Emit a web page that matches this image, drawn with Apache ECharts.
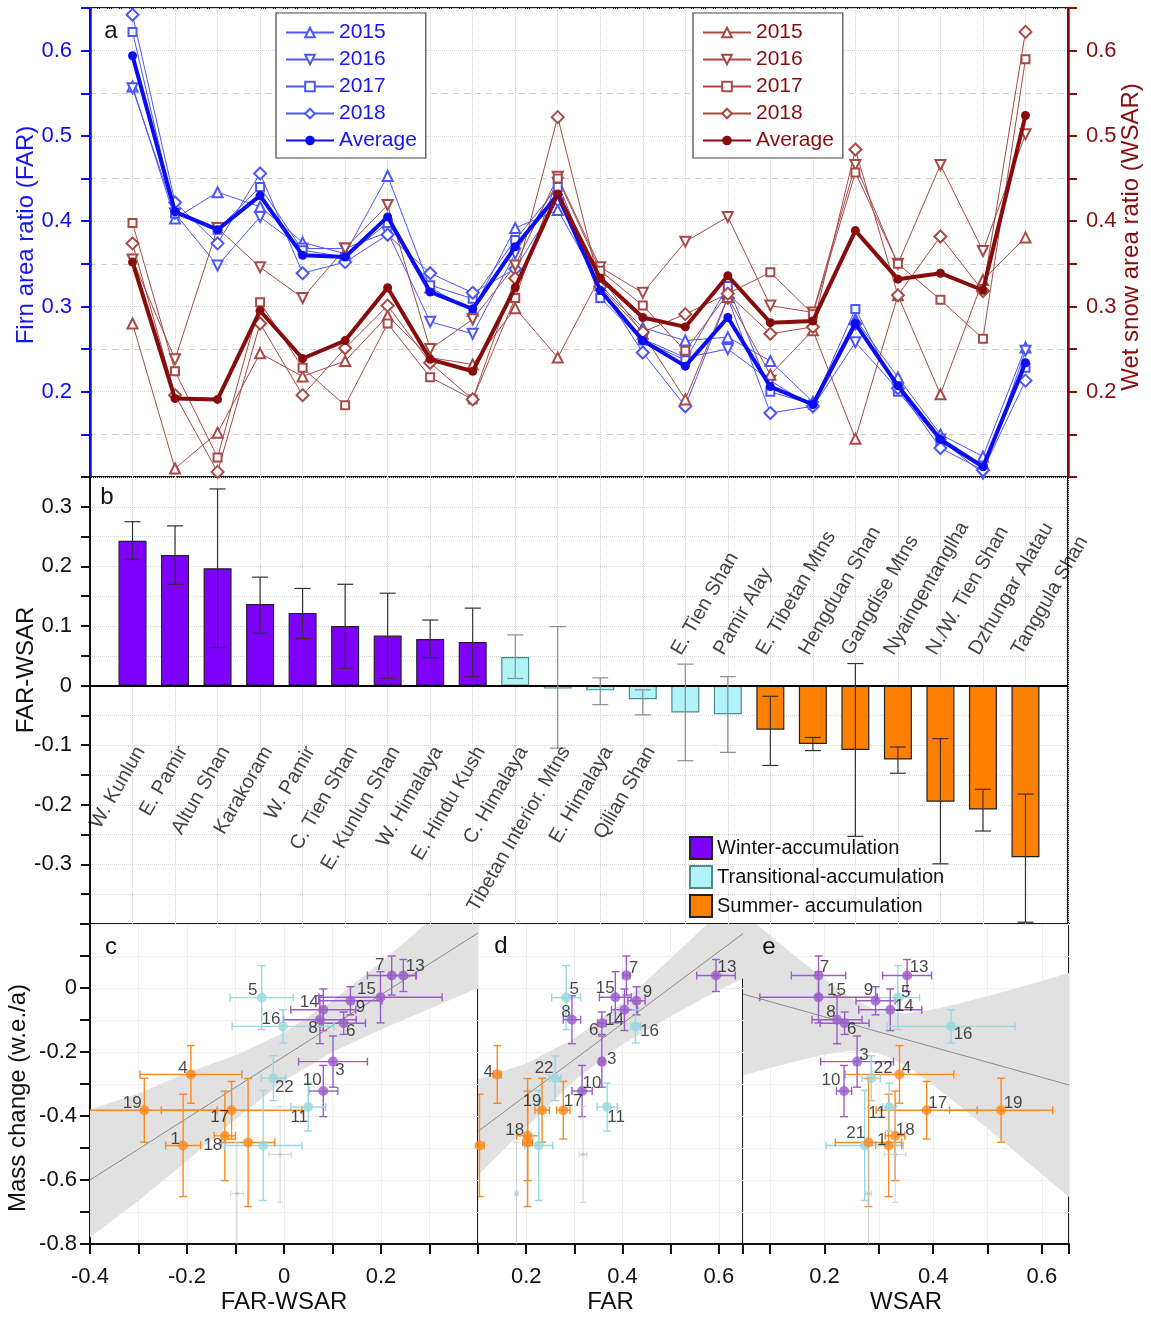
<!DOCTYPE html>
<html>
<head>
<meta charset="utf-8">
<title>FAR / WSAR by region</title>
<script src="https://cdn.jsdelivr.net/npm/echarts@6/dist/echarts.min.js"></script>
<style>
  html, body { margin: 0; padding: 0; background: #fff; }
  #chart { width: 1151px; height: 1317px; }
</style>
</head>
<body>
<div id="chart"></div>
<script>
// ---- panel a: yearly and mean ratios per region (same order as panel b) ----
var years = ['2015', '2016', '2017', '2018'];
var far2015 = [0.558, 0.403, 0.434, 0.417, 0.375, 0.362, 0.453, 0.322, 0.295, 0.392, 0.413, 0.325, 0.275, 0.260, 0.264, 0.236, 0.188, 0.285, 0.217, 0.150, 0.124, 0.252];
var far2016 = [0.556, 0.409, 0.348, 0.405, 0.368, 0.368, 0.387, 0.282, 0.268, 0.362, 0.445, 0.320, 0.262, 0.240, 0.250, 0.213, 0.182, 0.258, 0.203, 0.144, 0.104, 0.248];
var far2017 = [0.622, 0.409, 0.390, 0.440, 0.366, 0.358, 0.398, 0.325, 0.309, 0.378, 0.440, 0.310, 0.260, 0.237, 0.324, 0.200, 0.185, 0.297, 0.200, 0.142, 0.110, 0.228];
var far2018 = [0.642, 0.422, 0.374, 0.456, 0.339, 0.352, 0.384, 0.339, 0.316, 0.344, 0.425, 0.323, 0.246, 0.183, 0.310, 0.175, 0.183, 0.280, 0.204, 0.134, 0.108, 0.213];
var farAvg = [0.594, 0.411, 0.390, 0.430, 0.360, 0.358, 0.405, 0.317, 0.297, 0.370, 0.431, 0.319, 0.260, 0.230, 0.287, 0.206, 0.185, 0.280, 0.207, 0.144, 0.112, 0.234];
var wsar2015 = [0.280, 0.110, 0.152, 0.245, 0.218, 0.236, 0.289, 0.240, 0.232, 0.298, 0.240, 0.335, 0.268, 0.191, 0.311, 0.220, 0.272, 0.145, 0.313, 0.197, 0.331, 0.381];
var wsar2016 = [0.355, 0.238, 0.392, 0.346, 0.310, 0.368, 0.419, 0.250, 0.285, 0.348, 0.452, 0.346, 0.316, 0.376, 0.405, 0.301, 0.293, 0.466, 0.350, 0.466, 0.365, 0.502];
var wsar2017 = [0.398, 0.224, 0.123, 0.305, 0.228, 0.184, 0.280, 0.217, 0.191, 0.310, 0.450, 0.342, 0.301, 0.248, 0.315, 0.340, 0.291, 0.457, 0.350, 0.308, 0.262, 0.590];
var wsar2018 = [0.374, 0.196, 0.106, 0.280, 0.196, 0.251, 0.301, 0.234, 0.191, 0.333, 0.522, 0.323, 0.270, 0.291, 0.315, 0.268, 0.276, 0.484, 0.313, 0.382, 0.318, 0.622];
var wsarAvg = [0.352, 0.192, 0.191, 0.295, 0.239, 0.260, 0.322, 0.238, 0.224, 0.322, 0.432, 0.333, 0.287, 0.276, 0.336, 0.281, 0.283, 0.389, 0.332, 0.339, 0.319, 0.524];

// ---- panel b: FAR-WSAR per region ----
var regions = ['W. Kunlun', 'E. Pamir', 'Altun Shan', 'Karakoram', 'W. Pamir', 'C. Tien Shan', 'E. Kunlun Shan',
  'W. Himalaya', 'E. Hindu Kush', 'C. Himalaya', 'Tibetan Interior. Mtns', 'E. Himalaya', 'Qilian Shan',
  'E. Tien Shan', 'Pamir Alay', 'E. Tibetan Mtns', 'Hengduan Shan', 'Gangdise Mtns', 'Nyainqentanglha',
  'N./W. Tien Shan', 'Dzhungar Alatau', 'Tanggula Shan'];
var regionGroup = [0, 0, 0, 0, 0, 0, 0, 0, 0, 1, 1, 1, 1, 1, 1, 2, 2, 2, 2, 2, 2, 2];
var diffVals = [0.243, 0.219, 0.197, 0.137, 0.122, 0.100, 0.084, 0.078, 0.073, 0.048, -0.005, -0.008, -0.023, -0.045, -0.048, -0.074, -0.098, -0.108, -0.124, -0.195, -0.208, -0.288];
var diffHi = [0.275, 0.268, 0.330, 0.182, 0.163, 0.170, 0.155, 0.110, 0.130, 0.085, 0.099, 0.013, -0.007, 0.036, 0.015, -0.018, -0.087, 0.037, -0.103, -0.089, -0.174, -0.182];
var diffLo = [0.212, 0.170, 0.064, 0.088, 0.079, 0.029, 0.012, 0.047, 0.015, 0.012, -0.105, -0.032, -0.049, -0.126, -0.112, -0.134, -0.109, -0.253, -0.147, -0.299, -0.244, -0.397];
var groupNames = ['Winter-accumulation', 'Transitional-accumulation', 'Summer- accumulation'];

// ---- panels c-e: numbered regions vs mass change ----
var ptName = ['1', '3', '4', '5', '6', '7', '8', '9', '10', '11', '13', '14', '15', '16', '17', '18', '19', '21', '22', '', '', ''];
var ptGroup = ['S', 'W', 'S', 'T', 'W', 'W', 'W', 'W', 'W', 'T', 'W', 'W', 'W', 'T', 'S', 'S', 'S', 'T', 'T', 'S', 'G', 'G'];
var ptDiff = [-0.208, 0.101, -0.192, -0.046, 0.123, 0.222, 0.074, 0.137, 0.081, 0.050, 0.246, 0.081, 0.199, -0.002, -0.108, -0.122, -0.288, -0.043, -0.022, -0.074, -0.008, -0.097];
var ptDiffErr = [0.036, 0.071, 0.105, 0.065, 0.045, 0.050, 0.075, 0.065, 0.030, 0.036, 0.027, 0.067, 0.127, 0.105, 0.145, 0.022, 0.150, 0.080, 0.025, 0.055, 0.023, 0.013];
var ptFar = [0.103, 0.357, 0.140, 0.283, 0.357, 0.408, 0.295, 0.429, 0.316, 0.368, 0.594, 0.404, 0.385, 0.427, 0.277, 0.203, 0.233, 0.226, 0.260, 0.203, 0.318, 0.180];
var ptFarErr = [0.010, 0.005, 0.008, 0.030, 0.009, 0.007, 0.018, 0.018, 0.021, 0.021, 0.040, 0.027, 0.033, 0.010, 0.014, 0.023, 0.015, 0.029, 0.012, 0.010, 0.008, 0.003];
var ptWsar = [0.318, 0.260, 0.338, 0.335, 0.237, 0.189, 0.223, 0.294, 0.236, 0.319, 0.352, 0.321, 0.189, 0.433, 0.388, 0.330, 0.525, 0.274, 0.286, 0.281, 0.330, 0.281];
var ptWsarErr = [0.024, 0.067, 0.100, 0.040, 0.045, 0.050, 0.046, 0.036, 0.014, 0.012, 0.045, 0.058, 0.108, 0.118, 0.093, 0.018, 0.095, 0.071, 0.017, 0.061, 0.020, 0.005];
var ptMass = [-0.492, -0.230, -0.270, -0.030, -0.110, 0.039, -0.099, -0.040, -0.322, -0.372, 0.039, -0.068, -0.029, -0.120, -0.382, -0.462, -0.382, -0.492, -0.282, -0.483, -0.520, -0.642];
var ptMassErr = [0.160, 0.080, 0.090, 0.100, 0.035, 0.061, 0.075, 0.044, 0.080, 0.075, 0.050, 0.065, 0.080, 0.052, 0.090, 0.140, 0.100, 0.172, 0.070, 0.200, 0.150, 0.160];

// regression lines and confidence bands
var fitCX = [-0.4, 0.4], fitCY = [-0.600, 0.172];
var fitDX = [0.1, 0.65], fitDY = [-0.448, 0.170];
var fitEX = [0.05, 0.65], fitEY = [-0.019, -0.303];
var bandCX = [-0.4, -0.3, -0.2, -0.1, 0, 0.1, 0.2, 0.3, 0.4];
var bandCHi = [-0.38, -0.33, -0.265, -0.21, -0.14, -0.04, 0.08, 0.21, 0.35];
var bandCLo = [-0.78, -0.665, -0.54, -0.41, -0.29, -0.20, -0.13, -0.065, 0.0];
var bandDX = [0.1, 0.2, 0.3, 0.4, 0.5, 0.6, 0.65];
var bandDHi = [-0.285, -0.236, -0.158, -0.046, 0.092, 0.234, 0.31];
var bandDLo = [-0.585, -0.436, -0.288, -0.176, -0.088, -0.006, 0.03];
var bandEX = [0.05, 0.1, 0.15, 0.2, 0.25, 0.3, 0.35, 0.4, 0.45, 0.5, 0.55, 0.6, 0.65];
var bandEHi = [0.235, 0.164, 0.094, 0.028, -0.033, -0.073, -0.08, -0.067, -0.048, -0.025, -0.002, 0.022, 0.047];
var bandELo = [-0.273, -0.25, -0.228, -0.208, -0.195, -0.203, -0.242, -0.303, -0.37, -0.439, -0.51, -0.582, -0.653];

// ---- styles ----
var FONT = '"Liberation Sans", Arial, sans-serif';
var BLUE = '#0c0cf2', BLUE_L = '#4d57f7', RED = '#870d0d', RED_L = '#a84a44';
var yearSymbol = ['emptyTriangle', 'emptyTriangle', 'emptyRect', 'emptyDiamond'];
var yearRotate = [0, 180, 0, 0];
var yearSize = [10, 10, 8, 12];
var barColor = ['#8000ff', '#b0f3f8', '#ff8000'];
var barBorder = ['#222', '#4f8c8e', '#222'];
var errColorB = ['#333', '#8c8c8c', '#333'];
var ptColor = { W: '#9a5cc8', T: '#98d8e0', S: '#fa8a1c', G: '#c4c4c4' };
var labC = { '7': [-12, -10], '13': [12, -9], '15': [-14, -8], '9': [10, 7], '14': [-14, -7], '8': [-7, 9], '6': [7, 8],
  '3': [7, 9], '10': [-11, -11], '5': [-9, -7], '16': [-12, -7], '22': [11, 9], '11': [-9, 10], '4': [-8, -6],
  '19': [-12, -7], '17': [-12, 7], '1': [-8, -6], '18': [-12, 9] };
var labD = { '13': [11, -8], '7': [7, -7], '15': [-10, -9], '9': [11, -8], '14': [-10, 11], '6': [-8, 7], '8': [-6, -7],
  '5': [8, -8], '16': [14, 5], '3': [10, -2], '10': [10, -8], '22': [-11, -10], '11': [9, 10], '4': [-9, -2],
  '19': [-10, -9], '17': [10, -9], '18': [-13, -6] };
var labE = { '7': [6, -8], '13': [12, -8], '15': [18, -7], '9': [-7, -10], '5': [8, -5], '14': [14, -3], '8': [-6, -7],
  '6': [7, 6], '16': [12, 8], '3': [7, -6], '10': [-13, -11], '22': [12, -10], '4': [7, -6], '11': [-12, 6],
  '17': [11, -7], '19': [12, -7], '18': [10, -6], '1': [-7, -5], '21': [-9, -12] };

function tenths(v) { return Math.abs(v * 10 - Math.round(v * 10)) < 1e-6; }
function even(v, lo, hi) {
  var t = Math.round(v * 10);
  if (!tenths(v) || t % 2 !== 0 || v < lo || v > hi) return '';
  return t === 0 ? '0' : v.toFixed(1);
}
function pairs(vals) { return vals.map(function (v, i) { return [i + 1, v]; }); }

function ratioSeries(prefix, vals, k, color, yIdx) {
  return {
    name: prefix + '|' + years[k], type: 'line', xAxisIndex: 0, yAxisIndex: yIdx, data: pairs(vals),
    symbol: yearSymbol[k], symbolRotate: yearRotate[k], symbolSize: yearSize[k], showAllSymbol: true,
    lineStyle: { color: color, width: 1 }, itemStyle: { color: color, borderWidth: 1 }, z: 3, silent: true
  };
}
function avgSeries(prefix, vals, color, yIdx) {
  return {
    name: prefix + '|Average', type: 'line', xAxisIndex: 0, yAxisIndex: yIdx, data: pairs(vals),
    symbol: 'circle', symbolSize: 9, lineStyle: { color: color, width: 4 }, itemStyle: { color: color }, z: 5, silent: true
  };
}

function seg(x1, y1, x2, y2, c, w) {
  return { type: 'line', shape: { x1: x1, y1: y1, x2: x2, y2: y2 }, style: { stroke: c, lineWidth: w } };
}

// grid index g uses xAxis g and yAxis g + 1 (grid 0 has two y axes)
function scatterPanel(g, xVals, xErr, labels, bandX, bandHi, bandLo, fitX, fitY) {
  var ax = { xAxisIndex: g, yAxisIndex: g + 1 };
  var band = Object.assign({
    type: 'custom', clip: true, silent: true, z: 1,
    data: [[bandX[0], bandHi[0]]], encode: { x: 0, y: 1 },
    renderItem: function (params, api) {
      var up = bandX.map(function (x, i) { return api.coord([x, bandHi[i]]); });
      var dn = bandX.map(function (x, i) { return api.coord([x, bandLo[i]]); }).reverse();
      return { type: 'polygon', shape: { points: up.concat(dn) }, style: { fill: '#e1e1e1' } };
    }
  }, ax);
  var fit = Object.assign({
    type: 'line', silent: true, z: 2, symbol: 'none',
    data: fitX.map(function (x, i) { return [x, fitY[i]]; }),
    lineStyle: { color: '#8a8a8a', width: 1 }
  }, ax);
  var errs = Object.assign({
    type: 'custom', clip: true, silent: true, z: 3,
    data: xVals.map(function (x, i) { return [x, ptMass[i], xErr[i], ptMassErr[i], i]; }),
    encode: { x: 0, y: 1 },
    renderItem: function (params, api) {
      var x = api.value(0), y = api.value(1), ex = api.value(2), ey = api.value(3);
      var grp = ptGroup[api.value(4)];
      var c = ptColor[grp], w = grp === 'G' ? 0.8 : 1.4, k = grp === 'G' ? 3 : 4;
      var l = api.coord([x - ex, y]), r = api.coord([x + ex, y]);
      var t = api.coord([x, y + ey]), b = api.coord([x, y - ey]);
      return {
        type: 'group', children: [
          seg(l[0], l[1], r[0], r[1], c, w), seg(t[0], t[1], b[0], b[1], c, w),
          seg(l[0], l[1] - k, l[0], l[1] + k, c, w), seg(r[0], r[1] - k, r[0], r[1] + k, c, w),
          seg(t[0] - k, t[1], t[0] + k, t[1], c, w), seg(b[0] - k, b[1], b[0] + k, b[1], c, w)
        ]
      };
    }
  }, ax);
  var pts = Object.assign({
    type: 'scatter', z: 4, silent: true,
    data: xVals.map(function (x, i) {
      var off = labels[ptName[i]];
      return {
        value: [x, ptMass[i]],
        symbolSize: ptGroup[i] === 'G' ? 4 : 10,
        itemStyle: { color: ptColor[ptGroup[i]] },
        label: off ? { show: true, offset: off } : { show: false }
      };
    }),
    label: {
      show: true, position: 'inside', color: '#1a1a1a', fontSize: 17, fontFamily: FONT,
      formatter: function (p) { return ptName[p.dataIndex]; }
    }
  }, ax);
  return [band, fit, errs, pts];
}

// ---- axes ----
function ratioAxis(color, pos, split) {
  return {
    type: 'value', gridIndex: 0, position: pos, min: 0.1, max: 0.65, interval: 0.1,
    axisLine: { show: true, onZero: false, lineStyle: { color: color, width: 2.5 } },
    axisTick: { show: true, length: 9, lineStyle: { color: color, width: 2 } },
    minorTick: { show: true, splitNumber: 2, length: 9, lineStyle: { color: color, width: 2 } },
    axisLabel: {
      color: color, fontSize: 22, fontFamily: FONT, margin: 18,
      formatter: function (v) { return (tenths(v) && v > 0.15 && v < 0.62) ? v.toFixed(1) : ''; }
    },
    splitLine: { show: split, lineStyle: { color: '#d6d6d6', type: 'dotted' } },
    minorSplitLine: { show: split, lineStyle: { color: '#cfcfcf', type: [6, 5] } }
  };
}
function massAxis(g, visible) {
  return {
    type: 'value', gridIndex: g, min: -0.8, max: 0.2, interval: 0.1,
    axisLine: { show: visible, onZero: false, lineStyle: { color: '#111', width: 2 } },
    axisTick: { show: visible, length: 10, lineStyle: { color: '#111', width: 2 } },
    axisLabel: {
      show: visible, color: '#111', fontSize: 22, fontFamily: FONT, margin: 13,
      formatter: function (v) { return even(v, -0.85, 0.1); }
    },
    splitLine: { show: true, lineStyle: { color: '#efefef', width: 1 } }
  };
}
function panelXAxis(g, name, min, max, interval, hi) {
  var ax = {
    type: 'value', gridIndex: g, min: min, max: max,
    name: name, nameLocation: 'middle', nameGap: 46,
    nameTextStyle: { color: '#111', fontSize: 24, fontFamily: FONT },
    axisLine: { show: true, onZero: false, lineStyle: { color: '#111', width: 2 } },
    axisTick: { show: true, length: 10, lineStyle: { color: '#111', width: 2 } },
    axisLabel: {
      color: '#111', fontSize: 22, fontFamily: FONT, margin: 22,
      formatter: function (v) { return even(v, -0.45, hi); }
    },
    splitLine: { show: true, lineStyle: { color: '#efefef', width: 1 } }
  };
  if (interval) ax.interval = interval;
  return ax;
}
function catAxis(g) {
  return {
    type: 'value', gridIndex: g, min: 0, max: 23, interval: 1,
    axisLine: { show: false, onZero: false }, axisTick: { show: false }, axisLabel: { show: false },
    splitLine: { show: true, lineStyle: { color: '#d2d2d2', type: 'dotted' } }
  };
}

// ---- panel b series ----
var barSeries = groupNames.map(function (g, gi) {
  var s = {
    name: g, type: 'bar', xAxisIndex: 1, yAxisIndex: 2, barWidth: 28, barGap: '-100%', z: 3, silent: true,
    itemStyle: { color: barColor[gi], borderColor: barBorder[gi], borderWidth: 1.2 },
    data: diffVals.map(function (v, i) { return regionGroup[i] === gi ? [i + 1, v] : null; })
      .filter(function (d) { return d; })
  };
  if (gi === 0) {
    s.markLine = {
      silent: true, symbol: 'none', label: { show: false },
      lineStyle: { color: '#000', width: 2, type: 'solid' }, data: [{ yAxis: 0 }]
    };
  }
  return s;
});
var barErr = {
  type: 'custom', xAxisIndex: 1, yAxisIndex: 2, silent: true, z: 6,
  data: diffVals.map(function (v, i) { return [i + 1, diffLo[i], diffHi[i], regionGroup[i]]; }),
  encode: { x: 0, y: [1, 2] },
  renderItem: function (params, api) {
    var lo = api.coord([api.value(0), api.value(1)]), hi = api.coord([api.value(0), api.value(2)]);
    var c = errColorB[api.value(3)], k = 8;
    return {
      type: 'group', children: [
        seg(lo[0], lo[1], hi[0], hi[1], c, 1.2),
        seg(lo[0] - k, lo[1], lo[0] + k, lo[1], c, 1.2),
        seg(hi[0] - k, hi[1], hi[0] + k, hi[1], c, 1.2)
      ]
    };
  }
};
function nameLabels(below) {
  return {
    type: 'scatter', xAxisIndex: 1, yAxisIndex: 2, symbolSize: 1, silent: true, z: 7,
    itemStyle: { color: 'rgba(0,0,0,0)' },
    data: regions.map(function (r, i) {
      return { name: r, value: [i + 1, below ? -0.128 : 0.08] };
    }).filter(function (d, i) { return below ? i < 13 : i >= 13; }),
    label: {
      show: true, position: 'inside', formatter: '{b}', rotate: 60,
      align: below ? 'right' : 'left', verticalAlign: 'middle', offset: below ? [16, 0] : [-18, 0],
      color: '#111', fontSize: 20, fontFamily: FONT
    }
  };
}

var series = []
  .concat([far2015, far2016, far2017, far2018].map(function (v, k) { return ratioSeries('far', v, k, BLUE_L, 0); }))
  .concat([wsar2015, wsar2016, wsar2017, wsar2018].map(function (v, k) { return ratioSeries('wsar', v, k, RED_L, 1); }))
  .concat([avgSeries('far', farAvg, BLUE, 0), avgSeries('wsar', wsarAvg, RED, 1)])
  .concat(barSeries, [barErr, nameLabels(true), nameLabels(false)])
  .concat(scatterPanel(2, ptDiff, ptDiffErr, labC, bandCX, bandCHi, bandCLo, fitCX, fitCY))
  .concat(scatterPanel(3, ptFar, ptFarErr, labD, bandDX, bandDHi, bandDLo, fitDX, fitDY))
  .concat(scatterPanel(4, ptWsar, ptWsarErr, labE, bandEX, bandEHi, bandELo, fitEX, fitEY));

function ratioLegend(prefix, left, color) {
  return {
    orient: 'vertical', left: left, top: 13, padding: [9, 9, 7, 9],
    data: years.concat(['Average']).map(function (y) { return prefix + '|' + y; }),
    formatter: function (n) { return n.split('|')[1]; },
    itemWidth: 48, itemHeight: 12, itemGap: 6, selectedMode: false,
    borderColor: '#444', borderWidth: 1.2, backgroundColor: '#fff',
    textStyle: { color: color, fontSize: 21, fontFamily: FONT, lineHeight: 20 }
  };
}

function letter(t, x, y) {
  return { type: 'text', x: x, y: y, z: 100, style: { text: t, fontSize: 24, fontFamily: FONT, fill: '#111', align: 'center', verticalAlign: 'middle' } };
}
function yTitle(t, x, y, color) {
  return { type: 'text', x: x, y: y, rotation: Math.PI / 2, z: 100, style: { text: t, fontSize: 24, fontFamily: FONT, fill: color, align: 'center', verticalAlign: 'middle' } };
}

var chart = echarts.init(document.getElementById('chart'));
var option = {
  backgroundColor: '#fff',
  animation: false,
  grid: [
    { left: 90, top: 8, width: 978, height: 469, show: true, borderColor: '#1a1a1a', borderWidth: 2 },
    { left: 90, top: 477, width: 978, height: 447, show: true, borderColor: '#1a1a1a', borderWidth: 2 },
    { left: 90, top: 924, width: 388, height: 320, show: true, borderColor: '#1a1a1a', borderWidth: 2 },
    { left: 478, top: 924, width: 265, height: 320, show: true, borderColor: '#1a1a1a', borderWidth: 2 },
    { left: 743, top: 924, width: 326, height: 320, show: true, borderColor: '#1a1a1a', borderWidth: 2 }
  ],
  xAxis: [
    catAxis(0), catAxis(1),
    panelXAxis(2, 'FAR-WSAR', -0.4, 0.4, 0.1, 0.3),
    panelXAxis(3, 'FAR', 0.1, 0.65, 0.1, 0.61),
    panelXAxis(4, 'WSAR', 0.05, 0.65, null, 0.61)
  ],
  yAxis: [
    ratioAxis(BLUE, 'left', true),
    ratioAxis(RED, 'right', false),
    {
      type: 'value', gridIndex: 1, min: -0.4, max: 0.35, interval: 0.1,
      axisLine: { show: true, onZero: false, lineStyle: { color: '#111', width: 2 } },
      axisTick: { show: true, length: 9, lineStyle: { color: '#111', width: 2 } },
      minorTick: { show: true, splitNumber: 2, length: 9, lineStyle: { color: '#111', width: 2 } },
      axisLabel: {
        color: '#111', fontSize: 22, fontFamily: FONT, margin: 18,
        formatter: function (v) {
          if (!tenths(v) || v < -0.35 || v > 0.32) return '';
          return Math.abs(v) < 1e-9 ? '0' : v.toFixed(1);
        }
      },
      splitLine: { show: true, lineStyle: { color: '#d6d6d6', type: 'dotted' } },
      minorSplitLine: { show: true, lineStyle: { color: '#d6d6d6', type: 'dotted' } }
    },
    massAxis(2, true), massAxis(3, false), massAxis(4, false)
  ],
  legend: [
    ratioLegend('far', 276, '#1616ee'),
    ratioLegend('wsar', 693, RED),
    {
      orient: 'vertical', left: 689, top: 836, padding: 0, icon: 'rect', selectedMode: false,
      data: groupNames, itemWidth: 22, itemHeight: 22, itemGap: 5,
      textStyle: { color: '#111', fontSize: 20, fontFamily: FONT }
    }
  ],
  graphic: [
    letter('a', 111, 31), letter('b', 107, 497), letter('c', 111, 947), letter('d', 501, 946), letter('e', 769, 947),
    yTitle('Firn area ratio (FAR)', 26, 235, '#1616ee'),
    yTitle('Wet snow area ratio (WSAR)', 1131, 237, RED),
    yTitle('FAR-WSAR', 26, 670, '#111'),
    yTitle('Mass change (w.e./a)', 18, 1098, '#111')
  ],
  series: series
};
chart.setOption(option);
</script>
</body>
</html>
